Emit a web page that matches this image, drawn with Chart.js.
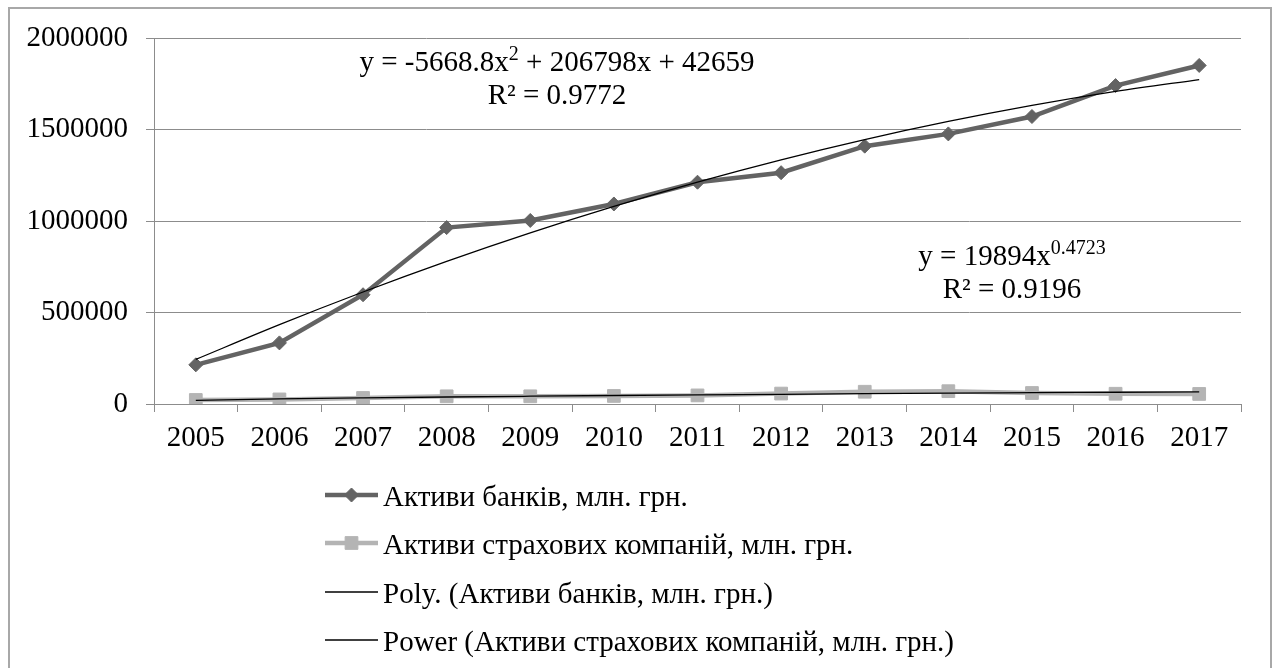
<!DOCTYPE html>
<html>
<head>
<meta charset="utf-8">
<script src="https://cdn.jsdelivr.net/npm/chart.js@4.4.0/dist/chart.umd.min.js"></script>
<style>
  html, body { margin: 0; padding: 0; background: #fff; overflow: hidden; }
  #frame { position: absolute; left: 8px; top: 7px; width: 1260px; height: 700px; border: 2px solid #a8a8a8; }
  #chart { display: block; }
</style>
</head>
<body>
<div id="frame"><canvas id="chart" width="1260" height="659"></canvas></div>
<script>
// categories and values
const years = ['2005', '2006', '2007', '2008', '2009', '2010', '2011', '2012', '2013', '2014', '2015', '2016', '2017'];
const bankAssets = [214000, 334000, 597000, 964000, 1003000, 1093000, 1212000, 1264000, 1409000, 1476000, 1571000, 1740000, 1850000];
const insuranceAssets = [22000, 25000, 33000, 42000, 42000, 44000, 47000, 57000, 67000, 70000, 60000, 56000, 55000];
const polyTrend = [243800, 433600, 612000, 779200, 934900, 1079400, 1212500, 1334200, 1444700, 1543800, 1631500, 1707900, 1773000];
const powerTrend = [19900, 27600, 33400, 38300, 42500, 46400, 49900, 53100, 56200, 59000, 61700, 64300, 66800];
const seriesNames = [
  'Активи банків, млн. грн.',
  'Активи страхових компаній, млн. грн.',
  'Poly. (Активи банків, млн. грн.)',
  'Power (Активи страхових компаній, млн. грн.)'
];
// trendline equations: [text, superscript] pieces
const polyEquation = [['y = -5668.8x', false], ['2', true], [' + 206798x + 42659', false]];
const polyR2 = 'R² = 0.9772';
const powerEquation = [['y = 19894x', false], ['0.4723', true]];
const powerR2 = 'R² = 0.9196';

const FONT = '"Liberation Serif", "Times New Roman", serif';
const SIZE = 29;
const BANK = '#636363';
const INS = '#b4b4b4';
const GRID = '#8c8c8c';

function drawRich(ctx, parts, cx, baseline, size) {
  const supSize = Math.round(size * 0.68);
  let total = 0;
  parts.forEach(p => {
    ctx.font = (p[1] ? supSize : size) + 'px ' + FONT;
    total += ctx.measureText(p[0]).width;
  });
  let x = cx - total / 2;
  ctx.textAlign = 'left';
  ctx.textBaseline = 'alphabetic';
  parts.forEach(p => {
    ctx.font = (p[1] ? supSize : size) + 'px ' + FONT;
    ctx.fillText(p[0], x, p[1] ? baseline - size * 0.38 : baseline);
    x += ctx.measureText(p[0]).width;
  });
}

// equation labels and the vertical legend
const extrasPlugin = {
  id: 'extras',
  afterDraw(chart) {
    const ctx = chart.ctx;
    ctx.save();
    ctx.fillStyle = '#000';
    drawRich(ctx, polyEquation, 547, 62, SIZE);
    drawRich(ctx, [[polyR2, false]], 547, 95, SIZE);
    drawRich(ctx, powerEquation, 1002, 256, SIZE);
    drawRich(ctx, [[powerR2, false]], 1002, 289, SIZE);

    const x0 = 315, x1 = 368, rowY = [486, 534, 583, 631];
    chart.data.datasets.forEach((ds, i) => {
      const y = rowY[i];
      ctx.strokeStyle = ds.borderColor;
      ctx.lineWidth = ds.borderWidth;
      ctx.beginPath();
      ctx.moveTo(x0, y);
      ctx.lineTo(x1, y);
      ctx.stroke();
      if (ds.pointRadius > 0) {
        ctx.fillStyle = ds.pointBackgroundColor;
        ctx.strokeStyle = ds.pointBorderColor;
        ctx.lineWidth = 1;
        Chart.helpers.drawPoint(ctx, { pointStyle: ds.pointStyle, radius: ds.pointRadius, borderWidth: 1 }, (x0 + x1) / 2, y);
      }
      ctx.fillStyle = '#000';
      ctx.font = SIZE + 'px ' + FONT;
      ctx.textAlign = 'left';
      ctx.textBaseline = 'middle';
      ctx.fillText(seriesNames[i], x1 + 5, y + 3);
    });
    ctx.restore();
  }
};

new Chart(document.getElementById('chart').getContext('2d'), {
  type: 'line',
  data: {
    labels: years,
    datasets: [
      {
        label: seriesNames[0], data: bankAssets, order: 2,
        borderColor: BANK, borderWidth: 4.5,
        pointStyle: 'rectRot', pointRadius: 7, pointBackgroundColor: BANK, pointBorderColor: BANK, pointBorderWidth: 1
      },
      {
        label: seriesNames[1], data: insuranceAssets, order: 2,
        borderColor: INS, borderWidth: 4.5,
        pointStyle: 'rect', pointRadius: 9, pointBackgroundColor: INS, pointBorderColor: INS, pointBorderWidth: 1
      },
      {
        label: seriesNames[2], data: polyTrend, order: 0,
        borderColor: '#000', borderWidth: 1.3, pointRadius: 0, cubicInterpolationMode: 'monotone'
      },
      {
        label: seriesNames[3], data: powerTrend, order: 0,
        borderColor: '#000', borderWidth: 1.3, pointRadius: 0, cubicInterpolationMode: 'monotone'
      }
    ]
  },
  options: {
    responsive: false,
    animation: false,
    layout: { padding: { left: 0, top: 29, right: 29, bottom: 204 } },
    plugins: { legend: { display: false }, tooltip: { enabled: false } },
    scales: {
      x: {
        offset: true,
        afterFit(scale) { scale.height = 60; scale.paddingLeft = 0; scale.paddingRight = 0; },
        grid: { drawOnChartArea: false, drawTicks: true, tickLength: 8, offset: true, color: GRID },
        border: { color: GRID },
        ticks: { color: '#000', font: { family: FONT, size: SIZE }, padding: 9, maxRotation: 0, autoSkip: false }
      },
      y: {
        min: 0, max: 2000000,
        afterFit(scale) { scale.width = 144; scale.paddingTop = 0; scale.paddingBottom = 0; },
        grid: { color: GRID, tickLength: 8 },
        border: { color: GRID },
        ticks: {
          stepSize: 500000, color: '#000', padding: 18,
          font: { family: FONT, size: SIZE },
          callback: v => String(v)
        }
      }
    }
  },
  plugins: [extrasPlugin]
});
</script>
</body>
</html>
